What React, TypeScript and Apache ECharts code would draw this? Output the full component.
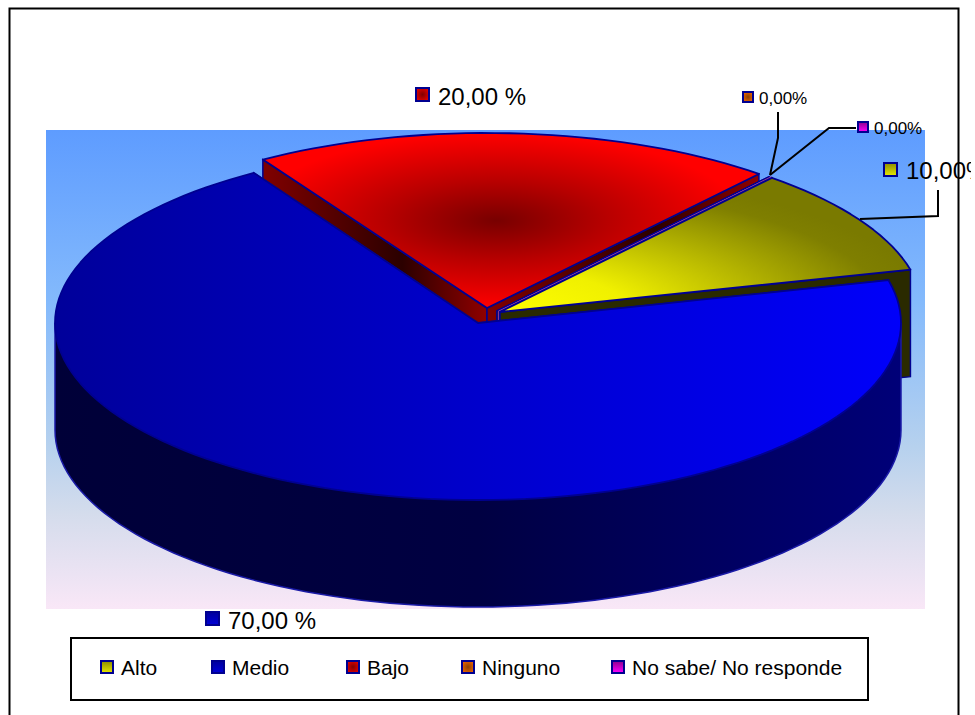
import React, { useEffect, useRef } from "react";
import * as echarts from "echarts";

// Survey answers, in legend order
const categories = ["Alto", "Medio", "Bajo", "Ninguno", "No sabe/ No responde"];
const percentages = [10, 70, 20, 0, 0];
const valueLabels = ["10,00%", "70,00 %", "20,00 %", "0,00%", "0,00%"];

const FONT = '"Liberation Sans", Arial, sans-serif';
const OUTLINE = "#000090";
const START_ANGLE = 50; // degrees, counter-clockwise from east; slices run clockwise
const DEPTH = 107;
const RX = 423;

const linear = (x2: number, y2: number, stops: [number, string][]) =>
  new echarts.graphic.LinearGradient(
    0,
    0,
    x2,
    y2,
    stops.map(([offset, color]) => ({ offset, color }))
  );
const radial = (x: number, y: number, r: number, stops: [number, string][]) =>
  new echarts.graphic.RadialGradient(
    x,
    y,
    r,
    stops.map(([offset, color]) => ({ offset, color }))
  );

// Pulled-apart centre, vertical radius and fills of each slice
const sliceLook = [
  {
    cx: 500,
    cy: 312,
    ry: 175,
    top: () => radial(0, 1, 1.05, [[0, "#ffff00"], [0.3, "#f0f000"], [0.9, "#7f7f00"], [1, "#7a7a00"]]),
    wall: () => "#2a2a00",
    line: OUTLINE,
  },
  {
    cx: 478,
    cy: 323,
    ry: 177,
    top: () => linear(1, 0, [[0, "#00009a"], [0.5, "#0000cc"], [1, "#0000fa"]]),
    wall: () => "#00005a",
    line: OUTLINE,
  },
  {
    cx: 487,
    cy: 308,
    ry: 175,
    top: () => radial(0.47, 0.5, 0.5, [[0, "#780000"], [0.45, "#b80000"], [1, "#ff0000"]]),
    wall: () => linear(1, 0, [[0, "#800000"], [0.62, "#2b0000"], [1, "#900000"]]),
    line: OUTLINE,
  },
  { cx: 497, cy: 311, ry: 175, top: () => "#8a4000", wall: () => "#5a2c00", line: OUTLINE },
  { cx: 499, cy: 311.5, ry: 175, top: () => "#b000b0", wall: () => "#8a3a9a", line: "#8a3a9a" },
];

// Where each share starts and ends around the pie
const total = percentages.reduce((a, b) => a + b, 0);
const sweeps = percentages.reduce<[number, number][]>((acc, v) => {
  const from = acc.length ? acc[acc.length - 1][1] : START_ANGLE;
  acc.push([from, from - (v / total) * 360]);
  return acc;
}, []);

// Back slices are painted first, so the front ones overlap them
const paintOrder = [2, 3, 4, 0, 1];

const onArc = (s: (typeof sliceLook)[number], deg: number, dy = 0): [number, number] => {
  const a = (deg * Math.PI) / 180;
  return [s.cx + RX * Math.cos(a), s.cy - s.ry * Math.sin(a) + dy];
};
const arcPoints = (s: (typeof sliceLook)[number], from: number, to: number, dy = 0) => {
  const n = Math.max(1, Math.ceil(Math.abs(from - to) / 2));
  return Array.from({ length: n + 1 }, (_, i) => onArc(s, from + ((to - from) * i) / n, dy));
};

const renderSlice = (_: unknown, api: any) => {
  const index = api.value(1);
  const share = api.value(0);
  const s = sliceLook[index];
  const from = sweeps[index][0];
  const to = from - (share / total) * 360;
  const apex: [number, number] = [s.cx, s.cy];
  const children: any[] = [];

  // The two cut faces
  [from, to].forEach((deg) => {
    const end = onArc(s, deg);
    children.push({
      type: "polygon",
      silent: true,
      shape: { points: [apex, end, [end[0], end[1] + DEPTH], [apex[0], apex[1] + DEPTH]] },
      style: { fill: s.wall(), stroke: s.line, lineWidth: 1.5 },
    });
  });

  // Outer rim: only the part that turns towards the viewer
  const rimFrom = Math.min(from, 0);
  const rimTo = Math.max(to, -180);
  if (rimFrom > rimTo) {
    const upper = arcPoints(s, rimFrom, rimTo);
    const lower = arcPoints(s, rimFrom, rimTo, DEPTH);
    children.push({
      type: "polygon",
      silent: true,
      shape: { points: [...upper, ...lower.slice().reverse()] },
      style: { fill: linear(1, 0, [[0, "#000038"], [0.5, "#000042"], [1, "#000078"]]) },
    });
    children.push({
      type: "polyline",
      silent: true,
      shape: { points: [upper[0], ...lower, upper[upper.length - 1]] },
      style: { fill: "none", stroke: "#1a1aa6", lineWidth: 1.5 },
    });
  }

  // Top face; an empty share is only an edge
  if (share > 0) {
    children.push({
      type: "polygon",
      silent: true,
      shape: { points: [apex, ...arcPoints(s, from, to)] },
      style: { fill: s.top(), stroke: s.line, lineWidth: 1.8, lineJoin: "round" },
    });
  } else {
    children.push({
      type: "polyline",
      silent: true,
      shape: { points: [apex, onArc(s, from)] },
      style: { fill: "none", stroke: s.line, lineWidth: 1.5 },
    });
  }
  return { type: "group", children };
};

// Small colour keys shared by the legend and the value labels
const keyFills = [
  () => linear(0, 1, [[0, "#8c8c00"], [1, "#e8e800"]]),
  () => linear(0, 1, [[0, "#00009c"], [1, "#0000d8"]]),
  () => radial(0.5, 0.5, 0.6, [[0, "#800000"], [1, "#e80000"]]),
  () => radial(0.5, 0.5, 0.6, [[0, "#8b4000"], [1, "#f06400"]]),
  () => linear(0, 1, [[0, "#8c008c"], [1, "#ff00ff"]]),
];
const key = (i: number, x: number, y: number, size: number) => ({
  type: "rect",
  z: 10,
  silent: true,
  shape: { x, y, width: size, height: size },
  style: { fill: keyFills[i](), stroke: "#000090", lineWidth: 2 },
});
const label = (text: string, x: number, y: number, size: number) => ({
  type: "text",
  z: 10,
  silent: true,
  x,
  y,
  style: {
    text,
    fill: "#000",
    font: `${size}px ${FONT}`,
    textAlign: "left",
    textVerticalAlign: "middle",
  },
});
const leader = (points: [number, number][]) => ({
  type: "polyline",
  z: 10,
  silent: true,
  shape: { points },
  style: { fill: "none", stroke: "#000", lineWidth: 2 },
});

// Placement of each category's value label: key x, key y, key size, text x, text y, font size
const valueLabelSpots = [
  [884, 163, 13, 906, 170, 24],
  [206, 612, 13, 228, 620, 24],
  [416, 88, 13, 438, 96, 24],
  [743, 92, 10, 759, 98, 17],
  [858, 122, 10, 874, 128, 17],
];
const legendKeyX = [101, 212, 347, 462, 612];
const legendTextX = [121, 232, 367, 482, 632];

export default function App() {
  const ref = useRef<HTMLDivElement>(null);

  useEffect(() => {
    const chart = echarts.init(ref.current!, undefined, { renderer: "svg" });
    chart.setOption({
      animation: false,
      backgroundColor: "#ffffff",
      series: [
        {
          type: "custom",
          coordinateSystem: "none",
          z: 2,
          silent: true,
          renderItem: renderSlice,
          data: paintOrder.map((i) => ({ name: categories[i], value: [percentages[i], i] })),
        },
      ],
      graphic: {
        elements: [
          {
            type: "rect",
            z: 0,
            silent: true,
            shape: { x: 46, y: 130, width: 879, height: 479 },
            style: {
              fill: linear(0, 1, [
                [0, "#5e9cff"],
                [0.36, "#84bafc"],
                [0.66, "#b6d1ee"],
                [0.8, "#d4dcec"],
                [1, "#f9e7f7"],
              ]),
            },
          },
          {
            type: "rect",
            z: 10,
            silent: true,
            shape: { x: 9.5, y: 8.5, width: 949, height: 730 },
            style: { fill: "none", stroke: "#000", lineWidth: 2 },
          },
          {
            type: "rect",
            z: 10,
            silent: true,
            shape: { x: 71, y: 638, width: 797, height: 62 },
            style: { fill: "#fff", stroke: "#000", lineWidth: 2 },
          },
          leader([[778, 112], [778, 138], [770, 175]]),
          leader([[856, 128], [829, 128], [770, 175]]),
          leader([[860, 219], [938, 216], [938, 190]]),
          ...valueLabels.flatMap((text, i) => {
            const [kx, ky, ks, tx, ty, fs] = valueLabelSpots[i];
            return [key(i, kx, ky, ks), label(text, tx, ty, fs)];
          }),
          ...categories.flatMap((name, i) => [
            { ...key(i, legendKeyX[i], 661, 12), z: 11 },
            { ...label(name, legendTextX[i], 667, 21), z: 11 },
          ]),
        ],
      },
    });
    return () => chart.dispose();
  }, []);

  return (
    <div
      ref={ref}
      style={{ position: "absolute", left: 0, top: 0, width: 971, height: 715, overflow: "hidden" }}
    />
  );
}
